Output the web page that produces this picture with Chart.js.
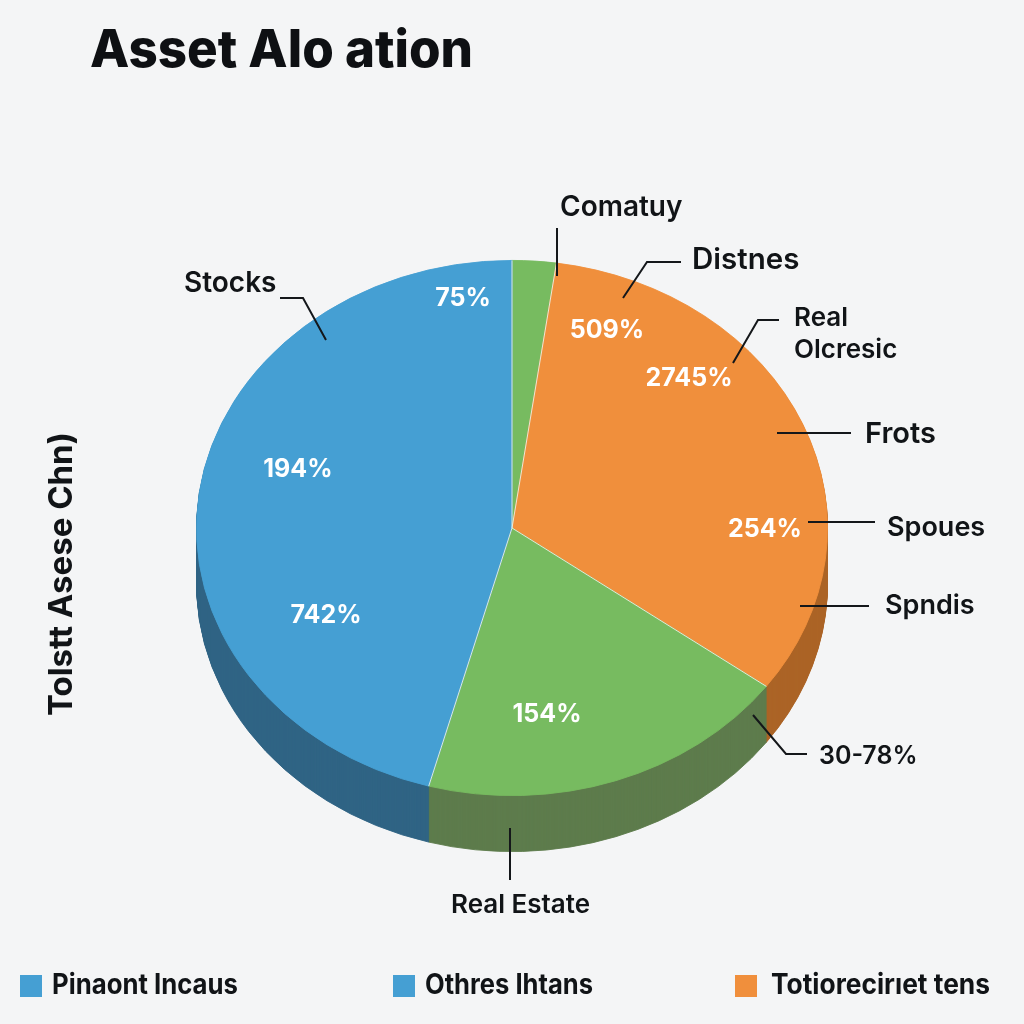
<!DOCTYPE html>
<html>
<head>
<meta charset="utf-8">
<title>Asset Allocation</title>
<script src="https://cdn.jsdelivr.net/npm/chart.js@4/dist/chart.umd.min.js"></script>
<style>
    html, body { margin: 0; padding: 0; background: #f4f5f6; }
    #wrap { width: 1024px; height: 1024px; }
</style>
</head>
<body>
<div id="wrap"><canvas id="my-chart" width="1024" height="1024"></canvas></div>
<script>
// slices, clockwise from the top
const categories = ['Comatuy', 'Frots', 'Real Estate', 'Stocks'];
const shares = [2.25, 32.83, 19.17, 45.75];

// text
const sliceTexts = ['75%', '194%', '742%', '509%', '2745%', '254%', '154%'];
const calloutTexts = ['Stocks', 'Comatuy', 'Distnes', 'Real', 'Olcresic', 'Frots', 'Spoues', 'Spndis', '30-78%', 'Real Estate'];
const legendTexts = ['Pinaont Incaus', 'Othres Ihtans', 'Totiorecirıet tens'];
const titleText = 'Asset Alo ation';
const sideText = 'Tolstt Asese Chn)';

// styles and layout, kept apart from the data
const topColors = ['#77bb60', '#f08f3c', '#77bb60', '#459fd3'];
const sideColors = ['#5d7c4c', '#ab6426', '#5d7c4c', '#306484'];
const legendColors = ['#459fd3', '#459fd3', '#f08f3c'];
const sliceSpots = [[463, 298], [298, 469], [326, 615], [607, 330], [689, 378], [765, 529], [547, 714]];
const calloutSpots = [[184, 284], [560, 208], [692, 260], [794, 318], [794, 350], [865, 434], [887, 528], [885, 606], [819, 756], [451, 905]];
const calloutSizes = [28, 28, 29.5, 26, 26, 29, 27, 27, 25, 26];
const leaders = [
    [[280, 298], [303, 298], [326, 340]],
    [[557, 228], [557, 276]],
    [[681, 262], [647, 262], [623, 298]],
    [[779, 320], [758, 320], [733, 363]],
    [[777, 433], [851, 433]],
    [[808, 522], [875, 522]],
    [[800, 606], [869, 606]],
    [[753, 715], [786, 754], [807, 754]],
    [[510, 828], [510, 880]]
];
const legendSpots = [[20, 52], [393, 425], [735, 771]];
const legendWidths = [186, 168, 219];

const squash = 268 / 316;
const depth = 56;

function applyTilt(ctx, x, y, shift) {
    ctx.translate(x, y + shift);
    ctx.scale(1, squash);
    ctx.translate(-x, -y);
}

const tiltedPie = {
    id: 'tiltedPie',
    beforeDatasetsDraw(chart) {
        const ctx = chart.ctx;
        const arcs = chart.getDatasetMeta(0).data;
        const x = arcs[0].x, y = arcs[0].y;
        // side wall: stack darker copies of the arcs from the bottom up
        for (let d = depth; d >= 1; d--) {
            arcs.forEach((arc, i) => {
                ctx.save();
                applyTilt(ctx, x, y, d);
                const saved = arc.options;
                arc.options = Object.assign({}, saved, { backgroundColor: sideColors[i], borderColor: sideColors[i], borderWidth: 1 });
                arc.draw(ctx);
                arc.options = saved;
                ctx.restore();
            });
        }
        ctx.save();
        applyTilt(ctx, x, y, 0);
    },
    afterDatasetsDraw(chart) {
        const ctx = chart.ctx;
        // pale seams between slices, none on the outer rim
        ctx.strokeStyle = '#e9efe2';
        ctx.lineWidth = 1;
        chart.getDatasetMeta(0).data.forEach(arc => {
            ctx.beginPath();
            ctx.moveTo(arc.x, arc.y);
            ctx.lineTo(arc.x + Math.cos(arc.startAngle) * arc.outerRadius, arc.y + Math.sin(arc.startAngle) * arc.outerRadius);
            ctx.stroke();
        });
        ctx.restore();
    }
};

function text(ctx, str, x, y, font, color, maxWidth) {
    ctx.font = font;
    ctx.fillStyle = color;
    if (maxWidth) ctx.fillText(str, x, y, maxWidth);
    else ctx.fillText(str, x, y);
}

const chartTexts = {
    id: 'chartTexts',
    afterDraw(chart) {
        const ctx = chart.ctx;
        ctx.save();
        ctx.textBaseline = 'middle';
        ctx.textAlign = 'left';

        // leader lines
        ctx.strokeStyle = '#14171a';
        ctx.lineWidth = 2;
        leaders.forEach(line => {
            ctx.beginPath();
            line.forEach((p, i) => i ? ctx.lineTo(p[0], p[1]) : ctx.moveTo(p[0], p[1]));
            ctx.stroke();
        });

        calloutTexts.forEach((t, i) => {
            text(ctx, t, calloutSpots[i][0], calloutSpots[i][1], '600 ' + calloutSizes[i] + 'px Inter', '#111417');
        });

        ctx.textAlign = 'center';
        sliceTexts.forEach((t, i) => {
            text(ctx, t, sliceSpots[i][0], sliceSpots[i][1], '700 25px Inter', '#ffffff');
        });

        ctx.textAlign = 'left';
        text(ctx, titleText, 90, 51, '800 52px Inter', '#0e1013', 383);

        legendTexts.forEach((t, i) => {
            ctx.fillStyle = legendColors[i];
            ctx.fillRect(legendSpots[i][0], 975, 22, 22);
            text(ctx, t, legendSpots[i][1], 986, '700 28px Inter', '#111417', legendWidths[i]);
        });

        // rotated axis caption
        ctx.save();
        ctx.translate(62, 574);
        ctx.rotate(-Math.PI / 2);
        ctx.textAlign = 'center';
        text(ctx, sideText, 0, 0, '700 33px Inter', '#111417', 284);
        ctx.restore();

        ctx.restore();
    }
};

const ctx = document.getElementById('my-chart').getContext('2d');
const chart = new Chart(ctx, {
    type: 'pie',
    data: {
        labels: categories,
        datasets: [{
            data: shares,
            backgroundColor: topColors,
            borderColor: topColors,
            borderWidth: 1
        }]
    },
    options: {
        responsive: false,
        animation: false,
        layout: { padding: { left: 196, right: 196, top: 212, bottom: 180 } },
        plugins: { legend: { display: false }, tooltip: { enabled: false } }
    },
    plugins: [tiltedPie, chartTexts]
});
</script>
</body>
</html>
